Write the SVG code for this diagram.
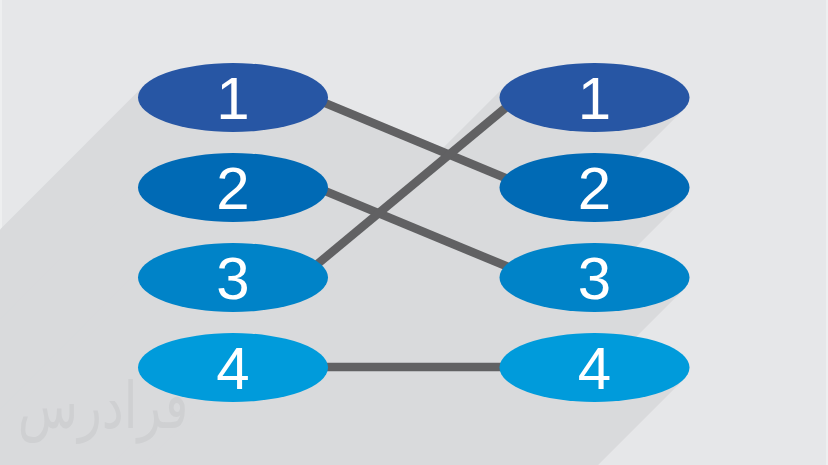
<svg xmlns="http://www.w3.org/2000/svg" width="828" height="465" viewBox="0 0 828 465">
<style>
.bg{fill:#e6e7e9}
.edge{fill:#eeeff0}
.sh{fill:#d9dadc}
.c1{fill:#2756a4}
.c2{fill:#006ab5}
.c3{fill:#0083c8}
.c4{fill:#009bdb}
.lbl{font-family:"Liberation Sans",Arial,sans-serif;font-size:60px;fill:#ffffff;text-anchor:middle}
.ln{stroke:#616163;stroke-width:8.5;fill:none;stroke-linecap:butt}
.wm{font-family:"DejaVu Sans",sans-serif;font-size:52px;fill:#cfd0d2;text-anchor:middle}
</style>
<rect class="bg" x="0" y="0" width="828" height="465"/>
<rect class="edge" x="0" y="0" width="2" height="465"/>
<rect class="edge" x="826" y="0" width="2" height="465"/>
<g id="shadow">
<polygon class="sh" points="143.7,85.7 322.3,109.3 -277.7,709.3 -456.3,685.7"/>
<polygon class="sh" points="143.7,175.7 322.3,199.3 -277.7,799.3 -456.3,775.7"/>
<polygon class="sh" points="143.7,265.7 322.3,289.3 -277.7,889.3 -456.3,865.7"/>
<polygon class="sh" points="143.7,355.7 322.3,379.3 -277.7,979.3 -456.3,955.7"/>
<polygon class="sh" points="505.2,85.7 683.8,109.3 83.8,709.3 -94.8,685.7"/>
<polygon class="sh" points="505.2,175.7 683.8,199.3 83.8,799.3 -94.8,775.7"/>
<polygon class="sh" points="505.2,265.7 683.8,289.3 83.8,889.3 -94.8,865.7"/>
<polygon class="sh" points="505.2,355.7 683.8,379.3 83.8,979.3 -94.8,955.7"/>
<polygon class="sh" points="326.5,99.3 504.5,173.3 -95.5,773.3 -273.5,699.3"/>
<polygon class="sh" points="328.2,188 504.8,261.3 -95.2,861.3 -271.8,788"/>
<polygon class="sh" points="315.7,260.2 502.4,105.2 -97.6,705.2 -284.3,860.2"/>
<polygon class="sh" points="327,363 501,363 -99,963 -273,963"/>
</g>
<g id="watermark"><text class="wm" transform="translate(103,428) scale(0.95,1.25)" x="0" y="0">فرادرس</text></g>
<g id="connectors">
<line class="ln" x1="300" y1="92.6" x2="530" y2="188.2"/>
<line class="ln" x1="300" y1="180.6" x2="530" y2="276"/>
<line class="ln" x1="300" y1="278.5" x2="530" y2="87.5"/>
<line class="ln" x1="300" y1="367" x2="530" y2="367"/>
</g>
<g id="L1"><ellipse class="c1" cx="233" cy="97.5" rx="95" ry="34.5"/><text class="lbl" x="233" y="119">1</text></g>
<g id="L2"><ellipse class="c2" cx="233" cy="187.5" rx="95" ry="34.5"/><text class="lbl" x="233" y="209">2</text></g>
<g id="L3"><ellipse class="c3" cx="233" cy="277.5" rx="95" ry="34.5"/><text class="lbl" x="233" y="299">3</text></g>
<g id="L4"><ellipse class="c4" cx="233" cy="367.5" rx="95" ry="34.5"/><text class="lbl" x="233" y="389">4</text></g>
<g id="R1"><ellipse class="c1" cx="594.5" cy="97.5" rx="95" ry="34.5"/><text class="lbl" x="594.5" y="119">1</text></g>
<g id="R2"><ellipse class="c2" cx="594.5" cy="187.5" rx="95" ry="34.5"/><text class="lbl" x="594.5" y="209">2</text></g>
<g id="R3"><ellipse class="c3" cx="594.5" cy="277.5" rx="95" ry="34.5"/><text class="lbl" x="594.5" y="299">3</text></g>
<g id="R4"><ellipse class="c4" cx="594.5" cy="367.5" rx="95" ry="34.5"/><text class="lbl" x="594.5" y="389">4</text></g>
</svg>
